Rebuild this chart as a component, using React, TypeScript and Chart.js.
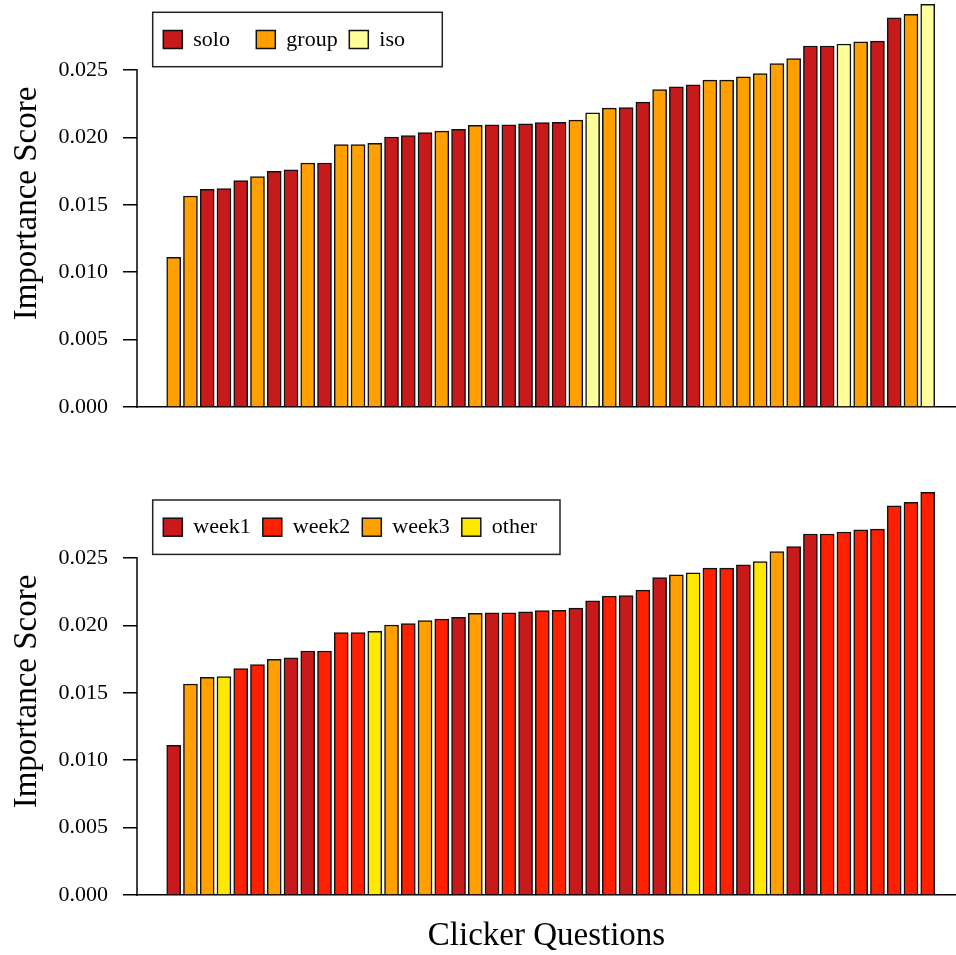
import React, { useEffect, useRef } from 'react';
import { Chart, registerables } from 'chart.js';

Chart.register(...registerables);

// ---- data ----
const importanceScores = [
  0.0111, 0.01565, 0.01615, 0.0162, 0.0168, 0.0171, 0.01748, 0.0176, 0.0181, 0.0181,
  0.01947, 0.01947, 0.01956, 0.02003, 0.02014, 0.02036, 0.02047, 0.0206, 0.0209, 0.02093,
  0.02093, 0.021, 0.0211, 0.02112, 0.02128, 0.02182, 0.02217, 0.02222, 0.02262, 0.02354,
  0.02376, 0.0239, 0.02425, 0.02425, 0.0245, 0.02474, 0.02548, 0.02584, 0.02678, 0.02678,
  0.02693, 0.02709, 0.02714, 0.02887, 0.02913, 0.02987,
];

const formatGroups = [
  'group', 'group', 'solo', 'solo', 'solo', 'group', 'solo', 'solo', 'group', 'solo',
  'group', 'group', 'group', 'solo', 'solo', 'solo', 'group', 'solo', 'group', 'solo',
  'solo', 'solo', 'solo', 'solo', 'group', 'iso', 'group', 'solo', 'solo', 'group',
  'solo', 'solo', 'group', 'group', 'group', 'group', 'group', 'group', 'solo', 'solo',
  'iso', 'group', 'solo', 'solo', 'group', 'iso',
];

const weekGroups = [
  'week1', 'week3', 'week3', 'other', 'week2', 'week2', 'week3', 'week1', 'week1', 'week2',
  'week2', 'week2', 'other', 'week3', 'week2', 'week3', 'week2', 'week1', 'week3', 'week1',
  'week2', 'week1', 'week2', 'week2', 'week1', 'week1', 'week2', 'week1', 'week2', 'week1',
  'week3', 'other', 'week2', 'week2', 'week1', 'other', 'week3', 'week1', 'week1', 'week2',
  'week2', 'week2', 'week2', 'week2', 'week2', 'week2',
];

const formatLabels = ['solo', 'group', 'iso'];
const formatColors: Record<string, string> = { solo: '#C81A1A', group: '#FFA000', iso: '#FFFF99' };

const weekLabels = ['week1', 'week2', 'week3', 'other'];
const weekColors: Record<string, string> = { week1: '#C81A1A', week2: '#FF2000', week3: '#FFA000', other: '#FFE800' };

const yTickValues = [0, 0.005, 0.01, 0.015, 0.02, 0.025];
const yAxisTitle = 'Importance Score';
const xAxisTitle = 'Clicker Questions';

// ---- styling constants ----
const FONT = 'Liberation Serif';
const Y_MAX = 0.030193;
const X_MIN = -2.19;
const X_MAX = 46.688;

const boxLegendPlugin = {
  id: 'boxLegend',
  afterDraw(chart: any, _args: any, opts: any) {
    if (!opts || !opts.items) return;
    const ctx = chart.ctx;
    ctx.save();
    ctx.lineWidth = 1.5;
    ctx.strokeStyle = '#222';
    ctx.fillStyle = '#fff';
    ctx.fillRect(opts.x, opts.y, opts.w, opts.h);
    ctx.strokeRect(opts.x, opts.y, opts.w, opts.h);
    ctx.font = `22px "${FONT}"`;
    ctx.textBaseline = 'middle';
    ctx.textAlign = 'left';
    opts.items.forEach((it: any, i: number) => {
      const sx = opts.x + 10.6 + i * opts.step;
      const cy = opts.y + opts.h / 2;
      ctx.fillStyle = it.color;
      ctx.fillRect(sx, cy - 9, 19, 18);
      ctx.lineWidth = 1.5;
      ctx.strokeStyle = '#111';
      ctx.strokeRect(sx, cy - 9, 19, 18);
      ctx.fillStyle = '#000';
      ctx.fillText(it.label, sx + 30, cy + 0.5);
    });
    ctx.restore();
  },
};

const yAxisLinePlugin = {
  id: 'yAxisLine',
  afterDraw(chart: any) {
    const y = chart.scales.y;
    const ctx = chart.ctx;
    const x = chart.chartArea.left;
    ctx.save();
    ctx.strokeStyle = '#000';
    ctx.lineWidth = 1.5;
    ctx.beginPath();
    ctx.moveTo(x, y.getPixelForValue(yTickValues[0]) + 0.75);
    ctx.lineTo(x, y.getPixelForValue(yTickValues[yTickValues.length - 1]) - 0.75);
    ctx.stroke();
    ctx.restore();
  },
};

function makeConfig(groups: string[], colors: Record<string, string>, labels: string[], opts: any) {
  return {
    type: 'bar' as const,
    data: {
      datasets: [
        {
          data: importanceScores.map((v, i) => ({ x: i, y: v })),
          backgroundColor: groups.map((g) => colors[g]),
          borderColor: '#111',
          borderWidth: 1.5,
          borderSkipped: 'start',
          barThickness: 14,
        },
      ],
    },
    options: {
      responsive: false,
      devicePixelRatio: 1,
      animation: false,
      layout: { padding: { top: opts.padTop, left: 0, right: 0, bottom: 0 } },
      plugins: {
        legend: { display: false },
        tooltip: { enabled: false },
        boxLegend: {
          items: labels.map((l) => ({ label: l, color: colors[l] })),
          x: 152.7,
          y: opts.legendY,
          w: opts.legendW,
          h: 54.4,
          step: opts.legendStep,
        },
      },
      scales: {
        x: {
          type: 'linear',
          min: X_MIN,
          max: X_MAX,
          offset: false,
          ticks: { display: false },
          grid: { display: false, offset: false },
          border: { display: true, color: '#000', width: 1.5 },
          title: {
            display: opts.showXTitle,
            text: xAxisTitle,
            color: '#000',
            font: { family: FONT, size: 33, lineHeight: 1 },
            padding: { top: 0, bottom: 2.5 },
          },
          afterFit: (scale: any) => {
            scale.height = opts.xHeight;
            scale.paddingLeft = 0;
            scale.paddingRight = 0;
          },
        },
        y: {
          type: 'linear',
          min: 0,
          max: Y_MAX,
          afterBuildTicks: (scale: any) => {
            scale.ticks = yTickValues.map((value) => ({ value }));
          },
          ticks: {
            color: '#000',
            padding: 15,
            font: { family: FONT, size: 22 },
            callback: (v: any) => Number(v).toFixed(3),
          },
          grid: {
            drawOnChartArea: false,
            drawTicks: true,
            tickLength: 14,
            color: '#000',
            lineWidth: 1.5,
          },
          border: { display: false },
          title: {
            display: true,
            text: yAxisTitle,
            color: '#000',
            font: { family: FONT, size: 33, lineHeight: 1 },
            padding: { top: 10.5, bottom: 0 },
          },
          afterFit: (scale: any) => {
            scale.width = 137;
            scale.paddingTop = 0;
            scale.paddingBottom = 0;
          },
        },
      },
    },
    plugins: [boxLegendPlugin, yAxisLinePlugin],
  };
}

function Panel(props: { width: number; height: number; config: any }) {
  const ref = useRef<HTMLCanvasElement>(null);
  useEffect(() => {
    if (!ref.current) return;
    const chart = new Chart(ref.current, props.config);
    return () => chart.destroy();
  }, []);
  return (
    <canvas
      ref={ref}
      width={props.width}
      height={props.height}
      style={{ display: 'block', width: props.width, height: props.height }}
    />
  );
}

export default function App() {
  const topConfig = makeConfig(formatGroups, formatColors, formatLabels, {
    padTop: 0,
    xHeight: 33,
    showXTitle: false,
    legendY: 12.3,
    legendW: 289.6,
    legendStep: 93,
  });
  const bottomConfig = makeConfig(weekGroups, weekColors, weekLabels, {
    padTop: 48,
    xHeight: 60,
    showXTitle: true,
    legendY: 60,
    legendW: 407.3,
    legendStep: 99.5,
  });
  return (
    <div style={{ position: 'absolute', left: 0, top: 0, width: 956, height: 955, background: '#fff' }}>
      <Panel width={956} height={440} config={topConfig} />
      <Panel width={956} height={515} config={bottomConfig} />
    </div>
  );
}
